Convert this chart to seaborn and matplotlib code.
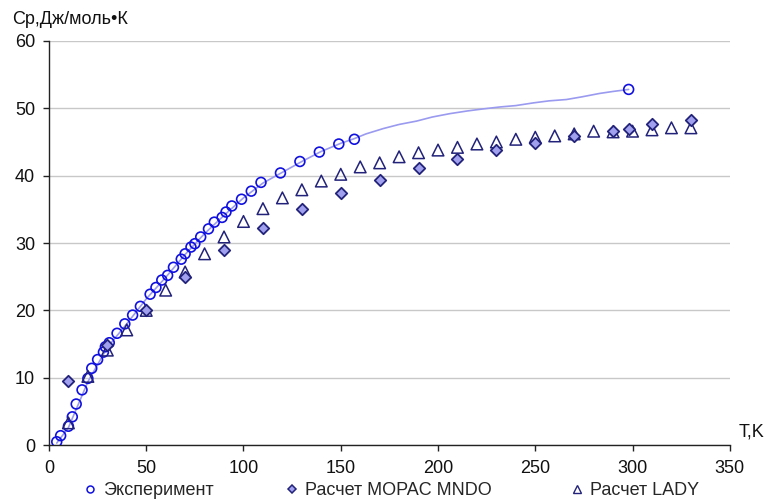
import matplotlib
matplotlib.use("Agg")
import matplotlib.pyplot as plt
from matplotlib.lines import Line2D
import seaborn as sns

# Эксперимент (точки)
exp_T = [4, 6, 10, 12, 14, 17, 20, 22, 25, 28, 29, 31, 35, 39, 43, 47, 52, 55, 58, 61,
         64, 68, 70, 73, 75, 78, 82, 85, 89, 91, 94, 99, 104, 109, 119, 129, 139, 149, 157, 298]
exp_Cp = [0.5, 1.4, 2.8, 4.2, 6.1, 8.2, 9.9, 11.4, 12.7, 13.8, 14.6, 15.2, 16.6, 18.0, 19.3, 20.6,
          22.4, 23.4, 24.5, 25.2, 26.4, 27.6, 28.4, 29.4, 29.9, 30.9, 32.1, 33.1, 33.8, 34.6, 35.5,
          36.5, 37.7, 39.0, 40.4, 42.1, 43.5, 44.7, 45.4, 52.8]

# сглаженная кривая эксперимента
line_T = [4, 10, 20, 30, 40, 50, 60, 70, 80, 90, 100, 110, 120, 130, 140, 150, 157, 163, 172,
          180, 189, 197, 206, 215, 223, 232, 240, 249, 257, 266, 274, 283, 290, 298]
line_Cp = [0.3, 2.6, 9.4, 14.5, 18.0, 21.7, 24.9, 28.3, 31.4, 34.1, 36.7, 38.9, 40.5, 42.1, 43.6,
           44.8, 45.5, 46.2, 47.0, 47.6, 48.1, 48.7, 49.2, 49.6, 49.9, 50.2, 50.4, 50.8, 51.1,
           51.3, 51.7, 52.2, 52.5, 52.8]

# Расчет MOPAC MNDO
mopac_T = [10, 30, 50, 70, 90, 110, 130, 150, 170, 190, 210, 230, 250, 270, 290, 298, 310, 330]
mopac_Cp = [9.5, 14.8, 20.0, 24.9, 28.9, 32.2, 35.1, 37.4, 39.4, 41.1, 42.5, 43.8, 44.8, 45.9,
            46.7, 46.9, 47.6, 48.2]

# Расчет LADY
lady_T = [10, 20, 30, 40, 50, 60, 70, 80, 90, 100, 110, 120, 130, 140, 150, 160, 170, 180, 190,
          200, 210, 220, 230, 240, 250, 260, 270, 280, 290, 300, 310, 320, 330]
lady_Cp = [3.3, 10.2, 14.1, 17.1, 20.0, 23.0, 25.7, 28.4, 30.9, 33.2, 35.1, 36.7, 37.9, 39.2,
           40.2, 41.3, 41.9, 42.8, 43.4, 43.8, 44.2, 44.7, 45.0, 45.4, 45.7, 45.9, 46.2, 46.6,
           46.5, 46.6, 46.8, 47.1, 47.1]

sns.set_style("white")
plt.rcParams['font.family'] = ['Liberation Sans', 'DejaVu Sans']

fig = plt.figure(figsize=(7.65, 4.99), dpi=100)
ax = fig.add_axes([0.064, 0.108, 0.890, 0.810])

c_exp = '#1010e0'
c_dark = '#22227a'

# кривая + три серии точек
sns.lineplot(x=line_T, y=line_Cp, ax=ax, color='#9a9af0', linewidth=1.2, zorder=2)
sns.scatterplot(x=exp_T, y=exp_Cp, ax=ax, marker='o', s=50, facecolor='none',
                edgecolor=c_exp, linewidth=1.2, zorder=3)
sns.scatterplot(x=lady_T, y=lady_Cp, ax=ax, marker='^', s=70, facecolor='none',
                edgecolor=c_dark, linewidth=1.1, zorder=4)
sns.scatterplot(x=mopac_T, y=mopac_Cp, ax=ax, marker='D', s=34, facecolor='#a0a0ee',
                edgecolor=c_dark, linewidth=1.3, zorder=5)

ax.set_xlim(0, 350)
ax.set_ylim(0, 60)
ax.set_xticks(range(0, 351, 50))
ax.set_yticks(range(0, 61, 10))
ax.yaxis.grid(True, color='#c8c8c8', linewidth=1)
ax.set_axisbelow(True)
for s in ['top', 'right']:
    ax.spines[s].set_visible(False)
for s in ['left', 'bottom']:
    ax.spines[s].set_color('#222222')
    ax.spines[s].set_linewidth(1)
ax.tick_params(axis='both', direction='out', length=4, width=1, color='#222222',
               labelsize=13, labelcolor='#111111', bottom=True, left=True)
ax.tick_params(axis='x', pad=7)
ax.tick_params(axis='y', pad=6)

fig.text(12 / 765, 1 - 20 / 499, "Ср,Дж/моль•К", fontsize=13, color='#111111', va='center')
fig.text(739 / 765, 1 - 432 / 499, "T,K", fontsize=13, color='#111111', va='center')

# легенда внизу: каждый элемент на своём месте, как в Excel
handles = [
    Line2D([], [], linestyle='none', marker='o', markersize=5, markerfacecolor='none',
           markeredgecolor=c_exp, markeredgewidth=1.1),
    Line2D([], [], linestyle='none', marker='D', markersize=4.5, markerfacecolor='#a0a0ee',
           markeredgecolor=c_dark, markeredgewidth=1.1),
    Line2D([], [], linestyle='none', marker='^', markersize=5.5, markerfacecolor='none',
           markeredgecolor=c_dark, markeredgewidth=1.0),
]
labels = ["Эксперимент", "Расчет MOPAC MNDO", "Расчет LADY"]
leg_x = [83, 285, 570]
for h, lab, x in zip(handles, labels, leg_x):
    fig.legend([h], [lab], loc='lower left', bbox_to_anchor=(x / 765, 0.0),
               frameon=False, fontsize=13, handletextpad=0.3, handlelength=0.8,
               borderpad=0, borderaxespad=0)

fig.savefig("out.png", dpi=100)
